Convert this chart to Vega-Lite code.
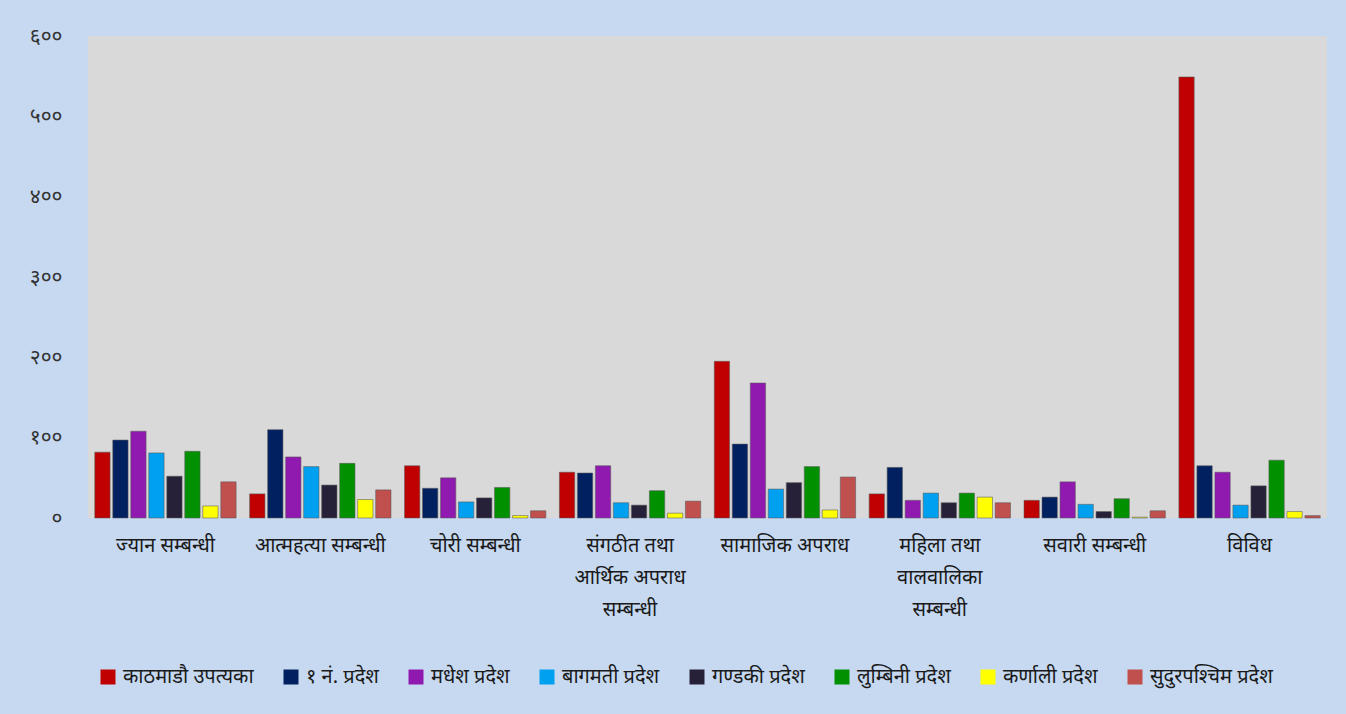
{
  "$schema": "https://vega.github.io/schema/vega-lite/v6.json",
  "width": 1239,
  "height": 482,
  "autosize": {"type": "none"},
  "padding": {"left": 88, "top": 36, "right": 19, "bottom": 196},
  "background": "#C6D9F1",
  "config": {"view": {"fill": "#D9D9D9", "stroke": null}, "font": "Noto Sans"},
  "data": {
    "values": [
      {"cat": "ज्यान सम्बन्धी", "region": "काठमाडौ उपत्यका", "value": 82},
      {"cat": "ज्यान सम्बन्धी", "region": "१ नं. प्रदेश", "value": 97},
      {"cat": "ज्यान सम्बन्धी", "region": "मधेश प्रदेश", "value": 108},
      {"cat": "ज्यान सम्बन्धी", "region": "बागमती प्रदेश", "value": 81},
      {"cat": "ज्यान सम्बन्धी", "region": "गण्डकी प्रदेश", "value": 52},
      {"cat": "ज्यान सम्बन्धी", "region": "लुम्बिनी प्रदेश", "value": 83},
      {"cat": "ज्यान सम्बन्धी", "region": "कर्णाली प्रदेश", "value": 15},
      {"cat": "ज्यान सम्बन्धी", "region": "सुदुरपश्चिम प्रदेश", "value": 45},
      {"cat": "आत्महत्या सम्बन्धी", "region": "काठमाडौ उपत्यका", "value": 30},
      {"cat": "आत्महत्या सम्बन्धी", "region": "१ नं. प्रदेश", "value": 110},
      {"cat": "आत्महत्या सम्बन्धी", "region": "मधेश प्रदेश", "value": 76},
      {"cat": "आत्महत्या सम्बन्धी", "region": "बागमती प्रदेश", "value": 64},
      {"cat": "आत्महत्या सम्बन्धी", "region": "गण्डकी प्रदेश", "value": 41},
      {"cat": "आत्महत्या सम्बन्धी", "region": "लुम्बिनी प्रदेश", "value": 68},
      {"cat": "आत्महत्या सम्बन्धी", "region": "कर्णाली प्रदेश", "value": 23},
      {"cat": "आत्महत्या सम्बन्धी", "region": "सुदुरपश्चिम प्रदेश", "value": 35},
      {"cat": "चोरी सम्बन्धी", "region": "काठमाडौ उपत्यका", "value": 65},
      {"cat": "चोरी सम्बन्धी", "region": "१ नं. प्रदेश", "value": 37},
      {"cat": "चोरी सम्बन्धी", "region": "मधेश प्रदेश", "value": 50},
      {"cat": "चोरी सम्बन्धी", "region": "बागमती प्रदेश", "value": 20},
      {"cat": "चोरी सम्बन्धी", "region": "गण्डकी प्रदेश", "value": 25},
      {"cat": "चोरी सम्बन्धी", "region": "लुम्बिनी प्रदेश", "value": 38},
      {"cat": "चोरी सम्बन्धी", "region": "कर्णाली प्रदेश", "value": 3},
      {"cat": "चोरी सम्बन्धी", "region": "सुदुरपश्चिम प्रदेश", "value": 9},
      {"cat": "संगठीत तथा|आर्थिक अपराध|सम्बन्धी", "region": "काठमाडौ उपत्यका", "value": 57},
      {"cat": "संगठीत तथा|आर्थिक अपराध|सम्बन्धी", "region": "१ नं. प्रदेश", "value": 56},
      {"cat": "संगठीत तथा|आर्थिक अपराध|सम्बन्धी", "region": "मधेश प्रदेश", "value": 65},
      {"cat": "संगठीत तथा|आर्थिक अपराध|सम्बन्धी", "region": "बागमती प्रदेश", "value": 19},
      {"cat": "संगठीत तथा|आर्थिक अपराध|सम्बन्धी", "region": "गण्डकी प्रदेश", "value": 16},
      {"cat": "संगठीत तथा|आर्थिक अपराध|सम्बन्धी", "region": "लुम्बिनी प्रदेश", "value": 34},
      {"cat": "संगठीत तथा|आर्थिक अपराध|सम्बन्धी", "region": "कर्णाली प्रदेश", "value": 6},
      {"cat": "संगठीत तथा|आर्थिक अपराध|सम्बन्धी", "region": "सुदुरपश्चिम प्रदेश", "value": 21},
      {"cat": "सामाजिक अपराध", "region": "काठमाडौ उपत्यका", "value": 195},
      {"cat": "सामाजिक अपराध", "region": "१ नं. प्रदेश", "value": 92},
      {"cat": "सामाजिक अपराध", "region": "मधेश प्रदेश", "value": 168},
      {"cat": "सामाजिक अपराध", "region": "बागमती प्रदेश", "value": 36},
      {"cat": "सामाजिक अपराध", "region": "गण्डकी प्रदेश", "value": 44},
      {"cat": "सामाजिक अपराध", "region": "लुम्बिनी प्रदेश", "value": 64},
      {"cat": "सामाजिक अपराध", "region": "कर्णाली प्रदेश", "value": 10},
      {"cat": "सामाजिक अपराध", "region": "सुदुरपश्चिम प्रदेश", "value": 51},
      {"cat": "महिला तथा|वालवालिका|सम्बन्धी", "region": "काठमाडौ उपत्यका", "value": 30},
      {"cat": "महिला तथा|वालवालिका|सम्बन्धी", "region": "१ नं. प्रदेश", "value": 63},
      {"cat": "महिला तथा|वालवालिका|सम्बन्धी", "region": "मधेश प्रदेश", "value": 22},
      {"cat": "महिला तथा|वालवालिका|सम्बन्धी", "region": "बागमती प्रदेश", "value": 31},
      {"cat": "महिला तथा|वालवालिका|सम्बन्धी", "region": "गण्डकी प्रदेश", "value": 19},
      {"cat": "महिला तथा|वालवालिका|सम्बन्धी", "region": "लुम्बिनी प्रदेश", "value": 31},
      {"cat": "महिला तथा|वालवालिका|सम्बन्धी", "region": "कर्णाली प्रदेश", "value": 26},
      {"cat": "महिला तथा|वालवालिका|सम्बन्धी", "region": "सुदुरपश्चिम प्रदेश", "value": 19},
      {"cat": "सवारी सम्बन्धी", "region": "काठमाडौ उपत्यका", "value": 22},
      {"cat": "सवारी सम्बन्धी", "region": "१ नं. प्रदेश", "value": 26},
      {"cat": "सवारी सम्बन्धी", "region": "मधेश प्रदेश", "value": 45},
      {"cat": "सवारी सम्बन्धी", "region": "बागमती प्रदेश", "value": 17},
      {"cat": "सवारी सम्बन्धी", "region": "गण्डकी प्रदेश", "value": 8},
      {"cat": "सवारी सम्बन्धी", "region": "लुम्बिनी प्रदेश", "value": 24},
      {"cat": "सवारी सम्बन्धी", "region": "कर्णाली प्रदेश", "value": 1},
      {"cat": "सवारी सम्बन्धी", "region": "सुदुरपश्चिम प्रदेश", "value": 9},
      {"cat": "विविध", "region": "काठमाडौ उपत्यका", "value": 549},
      {"cat": "विविध", "region": "१ नं. प्रदेश", "value": 65},
      {"cat": "विविध", "region": "मधेश प्रदेश", "value": 57},
      {"cat": "विविध", "region": "बागमती प्रदेश", "value": 16},
      {"cat": "विविध", "region": "गण्डकी प्रदेश", "value": 40},
      {"cat": "विविध", "region": "लुम्बिनी प्रदेश", "value": 72},
      {"cat": "विविध", "region": "कर्णाली प्रदेश", "value": 8},
      {"cat": "विविध", "region": "सुदुरपश्चिम प्रदेश", "value": 3}
    ]
  },
  "mark": {"type": "bar", "stroke": "#5a5a5a", "strokeWidth": 0.8, "strokeOpacity": 0.7},
  "encoding": {
    "x": {
      "field": "cat",
      "type": "nominal",
      "sort": null,
      "scale": {"paddingInner": 0.07, "paddingOuter": 0.035},
      "axis": {
        "title": null,
        "ticks": false,
        "domain": false,
        "labelAngle": 0,
        "labelFontSize": 20,
        "labelColor": "#1a1a1a",
        "labelPadding": 17,
        "labelLineHeight": 32,
        "labelBaseline": "top",
        "labelLimit": 0,
        "labelExpr": "split(datum.label, '|')"
      }
    },
    "xOffset": {
      "field": "region",
      "type": "nominal",
      "sort": ["काठमाडौ उपत्यका", "१ नं. प्रदेश", "मधेश प्रदेश", "बागमती प्रदेश", "गण्डकी प्रदेश", "लुम्बिनी प्रदेश", "कर्णाली प्रदेश", "सुदुरपश्चिम प्रदेश"],
      "scale": {"paddingInner": 0.15, "paddingOuter": 0.075}
    },
    "y": {
      "field": "value",
      "type": "quantitative",
      "scale": {"domain": [0, 600]},
      "axis": {
        "title": null,
        "grid": false,
        "ticks": false,
        "domain": false,
        "values": [0, 100, 200, 300, 400, 500, 600],
        "labelFontSize": 21,
        "labelColor": "#333333",
        "labelPadding": 26,
        "labelExpr": "datum.value == 0 ? '०' : datum.value == 100 ? '१००' : datum.value == 200 ? '२००' : datum.value == 300 ? '३००' : datum.value == 400 ? '४००' : datum.value == 500 ? '५००' : '६००'"
      }
    },
    "color": {
      "field": "region",
      "type": "nominal",
      "scale": {
        "domain": ["काठमाडौ उपत्यका", "१ नं. प्रदेश", "मधेश प्रदेश", "बागमती प्रदेश", "गण्डकी प्रदेश", "लुम्बिनी प्रदेश", "कर्णाली प्रदेश", "सुदुरपश्चिम प्रदेश"],
        "range": ["#C00000", "#002060", "#9019B0", "#00A0F0", "#262138", "#009000", "#FFFF00", "#C0504D"]
      },
      "legend": {
        "title": null,
        "orient": "none",
        "legendX": 10,
        "legendY": 631,
        "direction": "horizontal",
        "symbolType": "square",
        "symbolSize": 225,
        "symbolStrokeWidth": 0,
        "labelFontSize": 20,
        "labelColor": "#1a1a1a",
        "labelOffset": 5,
        "columnPadding": 27,
        "labelLimit": 0
      }
    }
  }
}
